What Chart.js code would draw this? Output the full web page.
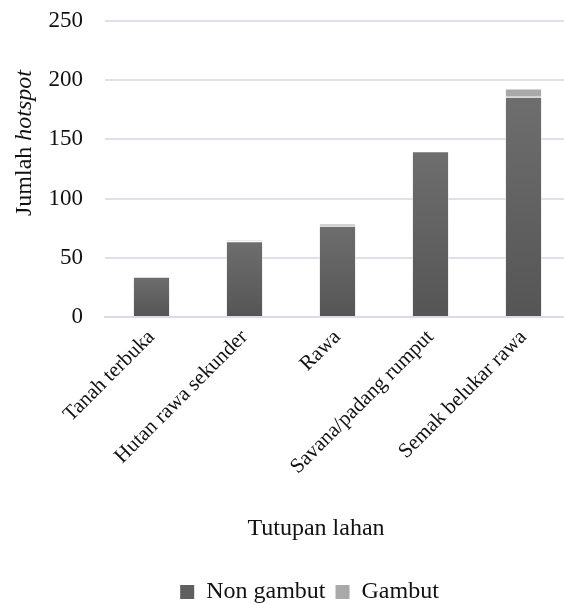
<!DOCTYPE html>
<html>
<head>
<meta charset="utf-8">
<script src="https://cdn.jsdelivr.net/npm/chart.js@4.4.1/dist/chart.umd.min.js"></script>
<style>
  html, body { margin: 0; padding: 0; background: #fff; overflow: hidden; }
  .wrap { width: 570px; height: 604px; }
</style>
</head>
<body>
<div class="wrap"><canvas id="hotspotChart"></canvas></div>
<script>
const categories = ['Tanah terbuka', 'Hutan rawa sekunder', 'Rawa', 'Savana/padang rumput', 'Semak belukar rawa'];
const nonGambut = [34, 64, 77, 140, 186];
const gambut = [0, 1, 2, 0, 7];
const yTicks = [0, 50, 100, 150, 200, 250];

const serif = "'Liberation Serif', 'Times New Roman', serif";

// axis titles drawn by hand: the y one has an italic word,
// the x one sits a bit left of the plot centre like the original
const axisTitles = {
  id: 'axisTitles',
  afterDraw(chart) {
    const c = chart.ctx;
    const area = chart.chartArea;
    c.save();
    c.fillStyle = '#111';
    c.textBaseline = 'middle';

    c.font = '24px ' + serif;
    c.textAlign = 'center';
    c.fillText('Tutupan lahan', area.left + 211, area.bottom + 212);

    const cy = (area.top + area.bottom) / 2 - 26;
    c.translate(25, cy);
    c.rotate(-Math.PI / 2);
    c.textAlign = 'left';
    const a = 'Jumlah ';
    const wa = c.measureText(a).width;
    c.font = 'italic 24px ' + serif;
    const b = 'hotspot';
    const wb = c.measureText(b).width;
    const x = -(wa + wb) / 2;
    c.font = '24px ' + serif;
    c.fillText(a, x, 0);
    c.font = 'italic 24px ' + serif;
    c.fillText(b, x + wa, 0);
    c.restore();
  }
};

// lighter at the top, darker at the base, per bar
function barShade(light, dark, values) {
  return (context) => {
    const chart = context.chart;
    if (!chart.chartArea) return dark;
    const y = chart.scales.y;
    const top = y.getPixelForValue(values[context.dataIndex]);
    const base = y.getPixelForValue(0);
    if (!(base - top > 1)) return light;
    const g = chart.ctx.createLinearGradient(0, top, 0, base);
    g.addColorStop(0, light);
    g.addColorStop(1, dark);
    return g;
  };
}

const ctx = document.getElementById('hotspotChart').getContext('2d');

new Chart(ctx, {
  type: 'bar',
  data: {
    labels: categories,
    datasets: [
      {
        label: 'Non gambut',
        data: nonGambut,
        backgroundColor: barShade('#6e6e6e', '#555555', nonGambut),
        borderColor: 'rgba(255,255,255,0.5)',
        borderWidth: 1,
        categoryPercentage: 1,
        barPercentage: 0.4
      },
      {
        label: 'Gambut',
        data: gambut,
        backgroundColor: '#a9a9a9',
        borderColor: 'rgba(255,255,255,0.5)',
        borderWidth: 1,
        categoryPercentage: 1,
        barPercentage: 0.4
      }
    ]
  },
  options: {
    responsive: true,
    maintainAspectRatio: false,
    animation: false,
    layout: {
      padding: { left: 49, top: 21, right: 0, bottom: -10 }
    },
    scales: {
      x: {
        stacked: true,
        afterFit(scale) {
          scale.paddingLeft = 0;
          scale.paddingRight = 0;
          scale.height = 253;
        },
        grid: { display: false, drawTicks: false },
        border: { display: true, color: '#d9dde6', width: 2 },
        ticks: {
          minRotation: 45,
          maxRotation: 45,
          padding: 8,
          color: '#111',
          font: { family: serif, size: 21 }
        }
      },
      y: {
        stacked: true,
        min: 0,
        max: 250,
        afterBuildTicks(scale) {
          scale.ticks = yTicks.map(v => ({ value: v }));
        },
        afterFit(scale) {
          scale.paddingTop = 0;
          scale.paddingBottom = 0;
          scale.width = 56;
        },
        grid: { color: '#dde1ea', lineWidth: 2, drawTicks: false },
        border: { display: false },
        ticks: {
          padding: 22,
          color: '#111',
          font: { family: serif, size: 23 }
        }
      }
    },
    plugins: {
      tooltip: { enabled: false },
      legend: {
        position: 'bottom',
        labels: {
          boxWidth: 14,
          boxHeight: 14,
          padding: 10,
          color: '#111',
          font: { family: serif, size: 24 },
          generateLabels(chart) {
            const fills = ['#5f5f5f', '#a9a9a9'];
            return chart.data.datasets.map((ds, i) => ({
              text: ds.label,
              fillStyle: fills[i],
              strokeStyle: fills[i],
              lineWidth: 0,
              fontColor: '#111',
              datasetIndex: i,
              hidden: false
            }));
          }
        }
      }
    }
  },
  plugins: [axisTitles]
});
</script>
</body>
</html>
